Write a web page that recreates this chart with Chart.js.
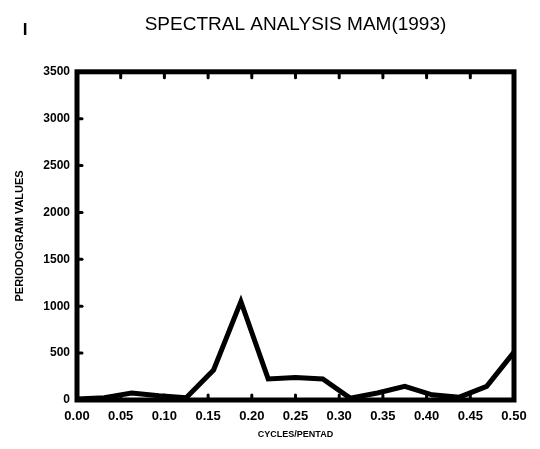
<!DOCTYPE html>
<html>
<head>
<meta charset="utf-8">
<script src="https://cdn.jsdelivr.net/npm/chart.js@4"></script>
<style>
  html, body { margin: 0; padding: 0; background: #fff; }
  #wrap { width: 540px; height: 449px; }
</style>
</head>
<body>
<div id="wrap"><canvas id="spectral-chart"></canvas></div>
<script>
"use strict";

// frequencies (cycles/pentad) and periodogram values
const frequencies = [0, 0.03125, 0.0625, 0.09375, 0.125, 0.15625, 0.1875, 0.21875, 0.25,
    0.28125, 0.3125, 0.34375, 0.375, 0.40625, 0.4375, 0.46875, 0.5];
const periodogram = [10, 25, 75, 45, 25, 320, 1050, 225, 240, 225, 20, 75, 145, 55, 30, 145, 510];

const xTicks = [0, 0.05, 0.1, 0.15, 0.2, 0.25, 0.3, 0.35, 0.4, 0.45, 0.5];
const yTicks = [0, 500, 1000, 1500, 2000, 2500, 3000, 3500];

const FONT = "'Liberation Sans', Arial, sans-serif";

// frame + little inward tick marks, like the old plot
const framePlugin = {
    id: 'frame',
    afterDraw(chart) {
        const {ctx, chartArea: a, scales: {x, y}} = chart;
        ctx.save();
        ctx.strokeStyle = '#000';
        ctx.lineWidth = 5;
        ctx.strokeRect(a.left, a.top, a.right - a.left, a.bottom - a.top);

        ctx.lineWidth = 3;
        ctx.lineCap = 'round';
        yTicks.slice(1, -1).forEach(v => {
            const py = y.getPixelForValue(v);
            ctx.beginPath();
            ctx.moveTo(a.left, py);
            ctx.lineTo(a.left + 5, py);
            ctx.stroke();
        });
        xTicks.slice(1, -1).forEach(v => {
            const px = x.getPixelForValue(v);
            ctx.beginPath();
            ctx.moveTo(px, a.top);
            ctx.lineTo(px, a.top + 6);
            ctx.stroke();
            ctx.beginPath();
            ctx.moveTo(px, a.bottom);
            ctx.lineTo(px, a.bottom - 5);
            ctx.stroke();
        });

        // stray mark at the top left of the scan
        ctx.fillStyle = '#000';
        ctx.font = 'bold 17px ' + FONT;
        ctx.textAlign = 'center';
        ctx.textBaseline = 'middle';
        ctx.fillText('I', 25, 30);
        ctx.restore();
    }
};

const ctx = document.getElementById('spectral-chart').getContext('2d');

new Chart(ctx, {
    type: 'line',
    data: {
        datasets: [{
            data: frequencies.map((f, i) => ({x: f, y: periodogram[i]})),
            borderColor: '#000',
            borderWidth: 5,
            pointRadius: 0,
            tension: 0,
            fill: false
        }]
    },
    plugins: [framePlugin],
    options: {
        responsive: true,
        maintainAspectRatio: false,
        animation: false,
        layout: {
            padding: {left: 0, right: 26, top: 0, bottom: 0}
        },
        plugins: {
            legend: {display: false},
            tooltip: {enabled: false},
            title: {
                display: true,
                text: 'SPECTRAL ANALYSIS MAM(1993)',
                color: '#000',
                fullSize: false,
                font: {family: FONT, size: 19, weight: 'normal'},
                padding: {top: 13, bottom: 36}
            }
        },
        scales: {
            x: {
                type: 'linear',
                min: 0,
                max: 0.5,
                afterBuildTicks: scale => {
                    scale.ticks = xTicks.map(v => ({value: v}));
                },
                afterFit: scale => { scale.height = 49; },
                ticks: {
                    color: '#000',
                    padding: 9,
                    font: {family: FONT, size: 13, weight: 'bold'},
                    callback: value => value.toFixed(2)
                },
                grid: {display: false, drawTicks: false},
                border: {display: false},
                title: {
                    display: true,
                    text: 'CYCLES/PENTAD',
                    color: '#000',
                    font: {family: FONT, size: 9, weight: 'bold'},
                    padding: {top: 0, bottom: 9}
                }
            },
            y: {
                min: 0,
                max: 3500,
                afterBuildTicks: scale => {
                    scale.ticks = yTicks.map(v => ({value: v}));
                },
                afterFit: scale => { scale.width = 77; },
                ticks: {
                    color: '#000',
                    padding: 7,
                    font: {family: FONT, size: 12, weight: 'bold'},
                    callback: value => String(value)
                },
                grid: {display: false, drawTicks: false},
                border: {display: false},
                title: {
                    display: true,
                    text: 'PERIODOGRAM VALUES',
                    color: '#000',
                    font: {family: FONT, size: 11, weight: 'bold'},
                    padding: {top: 13, bottom: 0}
                }
            }
        }
    }
});
</script>
</body>
</html>
